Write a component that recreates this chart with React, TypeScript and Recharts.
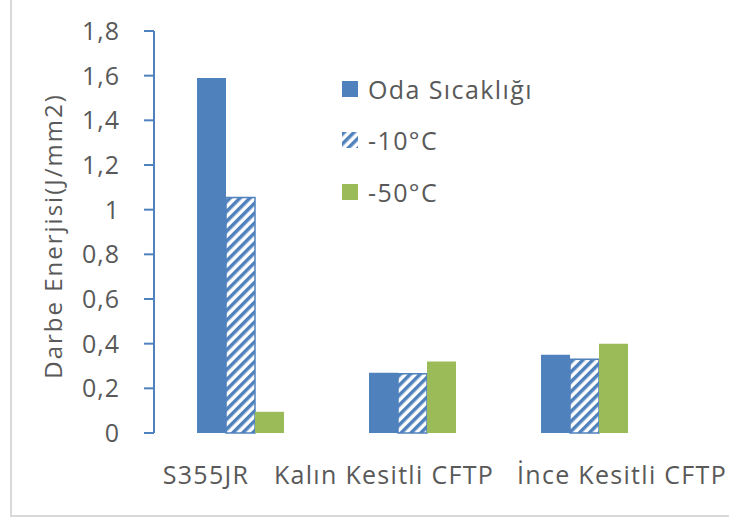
import React from "react";
import { BarChart, Bar, XAxis, YAxis, Legend } from "recharts";

// values (J/mm2)
const categories = ["S355JR", "Kalın Kesitli CFTP", "İnce Kesitli CFTP"];
const odaSicakligi = [1.59, 0.27, 0.35];
const eksi10 = [1.055, 0.265, 0.33];
const eksi50 = [0.095, 0.32, 0.4];
const yTicks = [0, 0.2, 0.4, 0.6, 0.8, 1, 1.2, 1.4, 1.6, 1.8];
const seriesNames = ["Oda Sıcaklığı", "-10°C", "-50°C"];

const BLUE = "#4f81bd";
const GREEN = "#9bbb59";
const TEXT = "#595959";
const FONT = "'Open Sans', sans-serif";

// label shifts so the category texts sit where the reference has them
const LABEL_SHIFT = [-34, -28, 38];

const data = categories.map((name, i) => ({
  name,
  oda: odaSicakligi[i],
  m10: eksi10[i],
  m50: eksi50[i],
}));

const HatchDefs = ({ id }: { id: string }) => (
  <defs>
    <pattern
      id={id}
      patternUnits="userSpaceOnUse"
      width={7}
      height={7}
      patternTransform="rotate(45)"
    >
      <rect x={0} y={0} width={7} height={7} fill="#fff" />
      <rect x={0} y={0} width={3.5} height={7} fill={BLUE} />
    </pattern>
  </defs>
);

const CategoryTick = (props: any) => {
  const { x, y, payload, index } = props;
  return (
    <text
      x={x + LABEL_SHIFT[index]}
      y={y}
      dy={43}
      textAnchor="middle"
      fill={TEXT}
      fontSize={25}
      letterSpacing={1.3}
      fontFamily={FONT}
    >
      {payload.value}
    </text>
  );
};

const renderLegend = () => {
  const fills = [BLUE, "url(#hatchLegend)", GREEN];
  return (
    <div style={{ fontFamily: FONT, fontSize: 25, letterSpacing: 1.4, color: TEXT }}>
      {seriesNames.map((name, i) => (
        <div
          key={name}
          style={{ height: 51.5, display: "flex", alignItems: "center" }}
        >
          <svg width={16} height={16} style={{ marginRight: 10 }}>
            {i === 1 && <HatchDefs id="hatchLegend" />}
            <rect x={0} y={0} width={16} height={16} fill={fills[i]} />
          </svg>
          <span>{name}</span>
        </div>
      ))}
    </div>
  );
};

export default function App() {
  return (
    <div
      style={{
        position: "absolute",
        left: 0,
        top: 0,
        width: 729,
        height: 519,
        overflow: "hidden",
        background: "#fff",
      }}
    >
      <div
        style={{
          position: "absolute",
          left: 10,
          top: -20,
          width: 800,
          height: 537,
          border: "2px solid #d9d9d9",
          boxSizing: "border-box",
        }}
      />
      <div style={{ position: "absolute", left: 0, top: 0 }}>
        <BarChart
          width={729}
          height={519}
          data={data}
          margin={{ top: 31, right: 59, left: 0, bottom: 0 }}
          barGap={0}
          barSize={29}
        >
          <HatchDefs id="hatch" />
          <XAxis
            dataKey="name"
            axisLine={false}
            tickLine={false}
            height={86}
            interval={0}
            tick={<CategoryTick />}
          />
          <YAxis
            width={154}
            domain={[0, 1.8]}
            ticks={yTicks}
            interval={0}
            axisLine={{ stroke: BLUE, strokeWidth: 2 }}
            tickLine={{ stroke: BLUE, strokeWidth: 2 }}
            tickSize={10}
            tickMargin={24}
            tickFormatter={(v: number) => String(v).replace(".", ",")}
            tick={{ fill: TEXT, fontSize: 25, letterSpacing: 1, fontFamily: FONT }}
            label={{
              content: ({ viewBox }: any) => {
                const cx = viewBox.x + 52;
                const cy = viewBox.y + viewBox.height / 2 + 4;
                return (
                  <text
                    x={cx}
                    y={cy}
                    transform={`rotate(-90, ${cx}, ${cy})`}
                    textAnchor="middle"
                    dominantBaseline="central"
                    fill={TEXT}
                    fontSize={24}
                    letterSpacing={2}
                    fontFamily={FONT}
                  >
                    Darbe Enerjisi(J/mm2)
                  </text>
                );
              },
            }}
          />
          <Legend
            layout="vertical"
            align="center"
            verticalAlign="middle"
            content={renderLegend}
            wrapperStyle={{ left: 342, top: 63, width: 260 }}
          />
          <Bar dataKey="oda" name={seriesNames[0]} fill={BLUE} isAnimationActive={false} />
          <Bar
            dataKey="m10"
            name={seriesNames[1]}
            fill="url(#hatch)"
            stroke={BLUE}
            strokeWidth={1.5}
            isAnimationActive={false}
          />
          <Bar dataKey="m50" name={seriesNames[2]} fill={GREEN} isAnimationActive={false} />
        </BarChart>
      </div>
    </div>
  );
}
